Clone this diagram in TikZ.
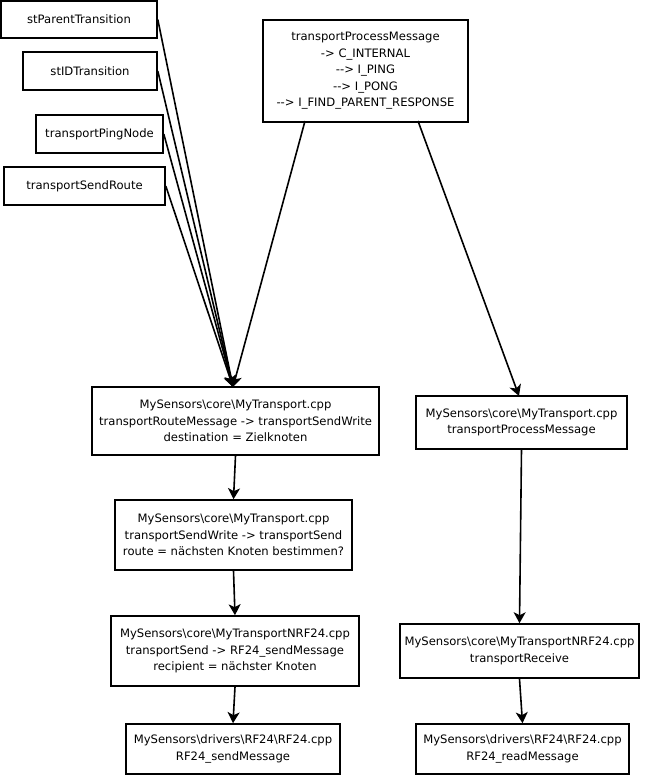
\documentclass[tikz,border=0pt]{standalone}
\usepackage{fontspec}
\setmainfont{DejaVu Sans}
\usetikzlibrary{arrows.meta}
\begin{document}
\begin{tikzpicture}[x=1pt,y=-1pt,
  box/.style={draw,line width=1.6pt,fill=white,align=center,inner sep=0pt,
    font=\fontsize{11.6}{16.5}\selectfont},
  conn/.style={line width=1.6pt,-{Stealth[length=11pt,width=12pt,inset=3pt]}}]
\useasboundingbox[fill=white] (0,0) rectangle (649,780);
% left top boxes
\node[box,minimum width=156pt,minimum height=37pt] (p1) at (79,19.5) {stParentTransition};
\node[box,minimum width=134pt,minimum height=38pt] (p2) at (90,71) {stIDTransition};
\node[box,minimum width=127pt,minimum height=38pt] (p3) at (99.5,134) {transportPingNode};
\node[box,minimum width=161pt,minimum height=38pt] (p4) at (84.5,186) {transportSendRoute};
% top message box
\node[box,minimum width=205pt,minimum height=102pt] (top) at (365.5,71)
  {transportProcessMessage\\-> C\_INTERNAL\\-{}-> I\_PING\\-{}-> I\_PONG\\-{}-> I\_FIND\_PARENT\_RESPONSE};
% left column
\node[box,minimum width=287pt,minimum height=68pt] (route) at (235.5,421)
  {MySensors\textbackslash core\textbackslash MyTransport.cpp\\transportRouteMessage -> transportSendWrite\\destination = Zielknoten};
\node[box,minimum width=237pt,minimum height=70pt] (write) at (233.5,535)
  {MySensors\textbackslash core\textbackslash MyTransport.cpp\\transportSendWrite -> transportSend\\route = nächsten Knoten bestimmen?};
\node[box,minimum width=248pt,minimum height=70pt] (nrf) at (235,651)
  {MySensors\textbackslash core\textbackslash MyTransportNRF24.cpp\\transportSend -> RF24\_sendMessage\\recipient = nächster Knoten};
\node[box,minimum width=214pt,minimum height=50pt] (rfsend) at (233,749)
  {MySensors\textbackslash drivers\textbackslash RF24\textbackslash RF24.cpp\\RF24\_sendMessage};
% right column
\node[box,minimum width=211pt,minimum height=53pt] (proc) at (521.5,422.5)
  {MySensors\textbackslash core\textbackslash MyTransport.cpp\\transportProcessMessage};
\node[box,minimum width=239pt,minimum height=54pt] (recv) at (519.5,651)
  {MySensors\textbackslash core\textbackslash MyTransportNRF24.cpp\\transportReceive};
\node[box,minimum width=213pt,minimum height=50pt] (rfread) at (522.5,749)
  {MySensors\textbackslash drivers\textbackslash RF24\textbackslash RF24.cpp\\RF24\_readMessage};
% coordinates
\coordinate (conv) at (233,387);
\coordinate (t1) at (305,121);
\coordinate (t2) at (418,121);
\coordinate (pin) at (519,396);
% connectors
\draw[conn] (p1.east) -- (conv);
\draw[conn] (p2.east) -- (conv);
\draw[conn] (p3.east) -- (conv);
\draw[conn] (p4.east) -- (conv);
\draw[conn] (t1) -- (conv);
\draw[conn] (t2) -- (pin);
\draw[conn] (route.south) -- (write.north);
\draw[conn] (write.south) -- (nrf.north);
\draw[conn] (nrf.south) -- (rfsend.north);
\draw[conn] (proc.south) -- (recv.north);
\draw[conn] (recv.south) -- (rfread.north);
\end{tikzpicture}
\end{document}
